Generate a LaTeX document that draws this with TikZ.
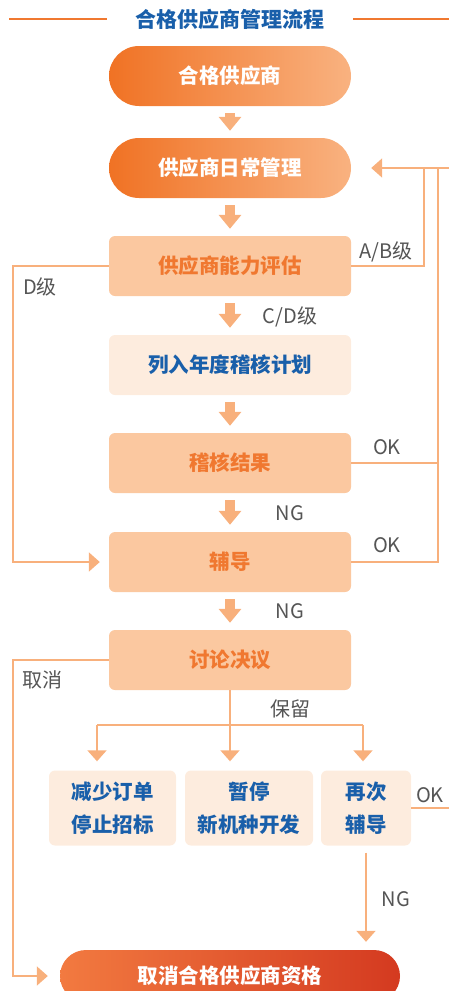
\documentclass[tikz,border=0pt]{standalone}
\usepackage{fontspec}
\setmainfont{Noto Sans CJK SC}
\usetikzlibrary{positioning,calc}
\usetikzlibrary{arrows.meta}
\definecolor{TitleBlue}{RGB}{25,95,170}
\definecolor{TextOrange}{RGB}{240,120,48}
\definecolor{PillDark}{RGB}{240,114,36}
\definecolor{PillLight}{RGB}{249,178,128}
\definecolor{EndLeft}{RGB}{242,122,64}
\definecolor{EndRight}{RGB}{212,58,32}
\definecolor{Peach}{RGB}{251,200,160}
\definecolor{SoftPeach}{RGB}{253,236,222}
\definecolor{LineOrange}{RGB}{248,176,124}
\definecolor{LabelGray}{RGB}{85,85,85}
\tikzset{
  pill/.style={rounded corners=30pt,minimum width=242pt,minimum height=60pt,inner sep=0pt,
    left color=PillDark,right color=PillLight,text=white,font=\fontsize{20.5}{24}\selectfont\bfseries},
  stage/.style={rounded corners=6pt,minimum width=242pt,minimum height=60pt,inner sep=0pt,
    fill=Peach,text=TextOrange,font=\fontsize{20.5}{24}\selectfont\bfseries},
  plan/.style={stage,fill=SoftPeach,text=TitleBlue},
  pick/.style={rounded corners=6pt,minimum height=75pt,inner sep=0pt,align=center,
    fill=SoftPeach,text=TitleBlue,font=\fontsize{20.5}{33}\selectfont\bfseries},
  blockarr/.style={draw=LineOrange,line width=10pt,-{Triangle[width=22pt,length=14pt]},
    shorten <=7pt,shorten >=7pt},
  link/.style={draw=LineOrange,line width=2pt},
  conn/.style={link,-{Triangle[width=19pt,length=11pt]}},
  lbl/.style={text=LabelGray,inner sep=0pt,font=\fontsize{20}{23}\selectfont},
}

\begin{document}
\begin{tikzpicture}[x=1pt,y=-1pt]
\useasboundingbox (0,0) rectangle (449,991);
% title
\node[text=TitleBlue,font=\fontsize{21}{25}\selectfont\bfseries] (title) at (230,19) {合格供应商管理流程};
\coordinate (tl) at (9,19);
\coordinate (tr) at (449,19);
\draw[TextOrange,line width=1.2pt] (tl) -- ($(title.west)+(-25,0)$);
\draw[TextOrange,line width=1.2pt] ($(title.east)+(25,0)$) -- (tr);
% main column
\node[pill] (qual) at (230,76) {合格供应商};
\node[pill] (daily) at (230,168) {供应商日常管理};
\node[stage] (eval) at (230,266) {供应商能力评估};
\node[plan] (plan) at (230,365) {列入年度稽核计划};
\node[stage] (audit) at (230,463) {稽核结果};
\node[stage] (coach) at (230,562) {辅导};
\node[stage] (decide) at (230,660) {讨论决议};
\node[pick,minimum width=127pt] (reduce) at (112.5,808) {减少订单\\停止招标};
\node[pick,minimum width=128pt] (pause) at (249,808) {暂停\\新机种开发};
\node[pick,minimum width=90pt] (retry) at (366,808) {再次\\辅导};
\node[pill,minimum width=340pt,minimum height=52pt,rounded corners=26pt,
  left color=EndLeft,right color=EndRight] (cancel) at (230,976) {取消合格供应商资格};
\draw[blockarr] (qual.south) -- (daily.north);
\draw[blockarr] (daily.south) -- (eval.north);
\draw[blockarr] (eval.south) -- (plan.north);
\draw[blockarr] (plan.south) -- (audit.north);
\draw[blockarr] (audit.south) -- (coach.north);
\draw[blockarr] (coach.south) -- (decide.north);
% left side
\coordinate (lx) at (13,0);
\draw[conn,shorten >=9pt] (eval.west) -- (lx |- eval.west) |- (coach.west);
\draw[conn,shorten >=12pt] (decide.west) -- (lx |- decide.west) |- (cancel.west);
% right side
\coordinate (rx1) at (424,0);
\coordinate (rx2) at (438,0);
\coordinate (redge) at (449,168);
\coordinate (okend) at (449,808);
\draw[conn,shorten >=20pt] (eval.east) -- (rx1 |- eval.east) |- (daily.east);
\draw[link] (rx1 |- daily.east) -- (redge);
\draw[link] (coach.east) -- (rx2 |- coach.east) -- (rx2 |- daily.east);
\draw[link] (audit.east) -- (rx2 |- audit.east);
\draw[link] (retry.east) -- (okend);
% branches
\coordinate (bA) at (97,725);
\coordinate (bC) at (363,725);
\draw[link] (decide.south) -- (decide.south |- bA);
\draw[link] (bA) -- (bC);
\draw[conn,shorten >=9pt] (bA) -- (bA |- reduce.north);
\draw[conn,shorten >=9pt] (decide.south |- bA) -- (decide.south |- pause.north);
\draw[conn,shorten >=9pt] (bC) -- (bC |- retry.north);
\draw[conn,shorten <=7pt,shorten >=8pt] (retry.south) -- (retry.south |- cancel.north);
% labels
\node[lbl] (lab) at (386,252) {A/B级};
\node[lbl] (ld) at (40,287) {D级};
\node[lbl] (lcd) at (290,317) {C/D级};
\node[lbl] (lok1) at (387,447) {OK};
\node[lbl] (lng1) at (290,513) {NG};
\node[lbl] (lok2) at (387,545) {OK};
\node[lbl] (lng2) at (290,611) {NG};
\node[lbl] (lqx) at (42,680) {取消};
\node[lbl] (lbl1) at (290,709) {保留};
\node[lbl] (lok3) at (430,795) {OK};
\node[lbl] (lng3) at (396,899) {NG};
\end{tikzpicture}
\end{document}
